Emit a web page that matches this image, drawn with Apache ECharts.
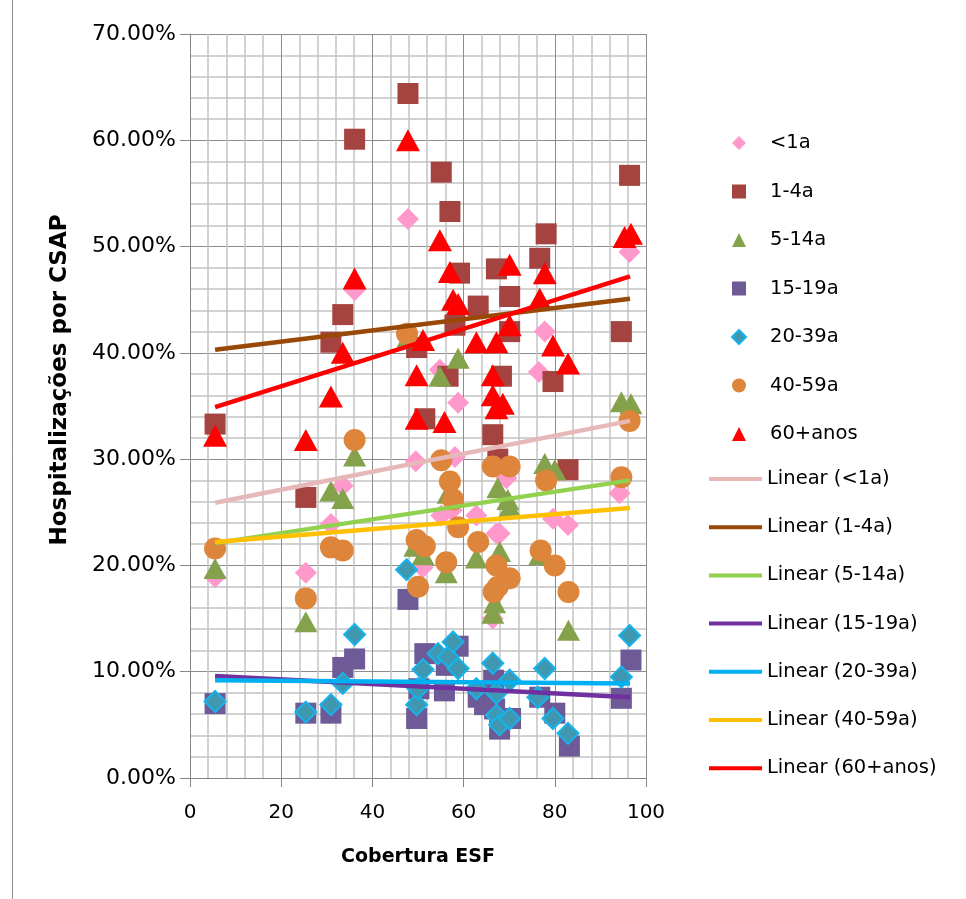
<!DOCTYPE html>
<html>
<head>
<meta charset="utf-8">
<script src="https://cdn.jsdelivr.net/npm/echarts@6/dist/echarts.min.js"></script>
<style>
  html, body { margin: 0; padding: 0; background: #fff; }
  #chart { width: 966px; height: 899px; }
</style>
</head>
<body>
<div id="chart"></div>
<script>
// dados: [cobertura ESF, % hospitalizações]
const menor1a = [[5.5,18.9],[25.4,19.3],[30.9,23.9],[33.5,27.5],[36.1,45.9],[47.8,52.6],[49.5,29.8],[51,19.8],
  [54.8,38.4],[55.1,24.7],[57.4,25.2],[58.1,30.2],[58.8,35.3],[62.8,24.7],[66.4,15.0],[67.2,23.0],[67.9,23.0],
  [69.4,28.2],[76.5,38.2],[77.8,42.0],[79.6,24.4],[82.9,23.8],[94.2,26.8],[96.4,49.5]]
const a1_4 = [[5.5,33.3],[25.4,26.4],[30.9,41.0],[33.5,43.6],[36.1,60.1],[47.8,64.4],[49.7,40.5],[51.5,33.8],
  [55.1,57.0],[56.6,37.8],[57.0,53.3],[58.1,42.6],[59.1,47.5],[63.2,44.4],[66.4,32.3],[67.2,47.9],[67.5,30.0],
  [68.3,37.8],[70.1,45.3],[70.1,42.0],[76.7,48.9],[78.1,51.2],[79.6,37.3],[82.9,29.0],[94.6,42.0],[96.4,56.7]]
const a5_14 = [[5.5,19.7],[25.4,14.7],[30.9,27.0],[33.5,26.3],[36.1,30.3],[47.8,41.5],[49.3,21.8],[51.1,21.0],
  [54.8,37.8],[56.2,19.3],[56.6,26.8],[58.8,39.5],[62.8,20.7],[66.4,15.5],[66.8,16.5],[67.5,27.3],[67.9,21.3],
  [69.7,26.2],[70.1,25.5],[76.7,21.0],[77.8,29.6],[80,29.0],[83,13.9],[94.6,35.4],[96.7,35.2]]
const a15_19 = [[5.5,7.0],[25.4,6.1],[30.9,6.1],[33.5,10.4],[36.1,11.2],[47.8,16.8],[49.7,5.6],[50.2,8.4],
  [51.5,11.7],[55.8,8.2],[56.2,10.6],[58.8,12.4],[63.2,7.6],[64.6,6.9],[66.6,9.2],[66.8,6.5],[67.9,4.6],
  [70.3,5.6],[76.7,7.6],[80,6.1],[83.2,3.0],[94.6,7.5],[96.7,11.1]]
const a20_39 = [[5.5,7.2],[25.4,6.2],[30.9,6.9],[33.5,8.9],[36.1,13.5],[47.5,19.6],[49.7,6.9],[50,8.4],
  [51.1,10.2],[54.4,11.7],[56.6,11.4],[57.7,12.8],[58.8,10.3],[62.8,8.4],[66.4,10.8],[67.2,8.0],[67.2,5.9],
  [67.9,5.0],[70.1,9.2],[70.1,5.6],[76.3,7.6],[77.8,10.3],[79.6,5.6],[82.9,4.2],[94.6,9.5],[96.4,13.4]]
const a40_59 = [[5.5,21.6],[25.4,16.9],[30.9,21.7],[33.5,21.4],[36.1,31.8],[47.6,41.8],[49.7,22.4],[50,18.0],
  [51.5,21.8],[55.1,29.9],[56.2,20.3],[57,27.9],[57.7,26.2],[58.8,23.6],[63.2,22.2],[66.4,29.3],[66.6,17.5],
  [67.2,20.0],[67.5,18.0],[70.1,29.3],[70.1,18.8],[76.9,21.4],[78.1,28.0],[80,20.0],[83,17.5],[94.6,28.3],[96.4,33.6]]
const a60mais = [[5.5,32.2],[25.4,31.8],[30.9,35.9],[33.5,40.0],[36.1,47.0],[47.8,60.0],[49.7,37.9],[49.7,33.8],
  [51.1,41.2],[54.8,50.6],[55.8,33.5],[57,47.6],[57.7,45.0],[58.8,44.6],[62.8,41.0],[66.4,37.9],[66.4,36.0],
  [67.2,41.0],[67.2,34.8],[68.6,35.2],[70.1,48.3],[70.1,42.6],[76.7,45.1],[77.8,47.5],[79.6,40.7],[82.9,39.0],
  [95.3,50.9],[96.7,51.2]]

// linhas de tendência (valor no início e no fim)
const trendX = [5.5, 96.5]
const trendMenor1a = [25.9, 33.6]
const trend1_4 = [40.3, 45.1]
const trend5_14 = [22.1, 28.0]
const trend15_19 = [9.6, 7.6]
const trend20_39 = [9.2, 8.9]
const trend40_59 = [22.2, 25.4]
const trend60mais = [34.9, 47.2]

const groupNames = ['<1a', '1-4a', '5-14a', '15-19a', '20-39a', '40-59a', '60+anos']
const trendNames = groupNames.map(n => 'Linear (' + n + ')')

const chart = echarts.init(document.getElementById('chart'))

const scatterDefs = [
  { data: menor1a, symbol: 'diamond', size: 22, color: '#ff99cc' },
  { data: a1_4, symbol: 'rect', size: 21, color: '#a4433f' },
  { data: a5_14, symbol: 'triangle', size: [23, 21], color: '#84a14b' },
  { data: a15_19, symbol: 'rect', size: 21, color: '#6e5a96' },
  { data: a20_39, symbol: 'diamond', size: 21, color: '#3f97b0', border: '#16b4ec' },
  { data: a40_59, symbol: 'circle', size: 22, color: '#dd853b' },
  { data: a60mais, symbol: 'triangle', size: [24, 22], color: '#ff0000' }
]

const trendDefs = [
  { values: trendMenor1a, color: '#e6b9b8' },
  { values: trend1_4, color: '#984807' },
  { values: trend5_14, color: '#92d050' },
  { values: trend15_19, color: '#7030a0' },
  { values: trend20_39, color: '#00b0f0' },
  { values: trend40_59, color: '#ffc000' },
  { values: trend60mais, color: '#ff0000' }
]

const series = []
scatterDefs.forEach((d, i) => {
  series.push({
    name: groupNames[i],
    type: 'scatter',
    data: d.data,
    symbol: d.symbol,
    symbolSize: d.size,
    itemStyle: {
      color: d.color,
      opacity: 1,
      borderColor: d.border || d.color,
      borderWidth: d.border ? 2 : 0
    }
  })
})
trendDefs.forEach((d, i) => {
  series.push({
    name: trendNames[i],
    type: 'line',
    data: trendX.map((x, k) => [x, d.values[k]]),
    symbol: 'none',
    lineStyle: { color: d.color, width: 4.5 },
    itemStyle: { color: d.color },
    z: 3
  })
})

const option = {
  animation: false,
  backgroundColor: '#ffffff',
  textStyle: { fontFamily: 'DejaVu Sans' },
  graphic: [
    { type: 'line', shape: { x1: 12.5, y1: 0, x2: 12.5, y2: 899 }, style: { stroke: '#8c8c8c', lineWidth: 1 } }
  ],
  grid: { left: 190, top: 34, width: 456, height: 744, containLabel: false },
  legend: [
    {
      // marcadores
      orient: 'vertical',
      left: 726,
      top: 128,
      itemWidth: 14,
      itemHeight: 14,
      itemGap: 28.5,
      data: groupNames,
      formatter: name => '{t|' + name + '}',
      textStyle: {
        color: '#000',
        rich: { t: { fontSize: 19.5, lineHeight: 20, color: '#000', fontFamily: 'DejaVu Sans', padding: [0, 0, 0, 19] } }
      }
    },
    {
      // linhas de tendência
      orient: 'vertical',
      left: 704,
      top: 464,
      itemWidth: 53,
      itemHeight: 4,
      icon: 'rect',
      itemGap: 28.2,
      data: trendNames,
      textStyle: { fontSize: 19.5, color: '#000', lineHeight: 20, fontFamily: 'DejaVu Sans' }
    }
  ],
  xAxis: {
    type: 'value',
    min: 0,
    max: 100,
    interval: 20,
    name: 'Cobertura ESF',
    nameLocation: 'middle',
    nameGap: 70,
    nameTextStyle: { fontSize: 19, fontWeight: 'bold', color: '#000' },
    axisLine: { show: true, onZero: false, lineStyle: { color: '#868686', width: 1 } },
    axisTick: { show: true, length: 9, lineStyle: { color: '#868686' } },
    axisLabel: { fontSize: 20, color: '#000', margin: 25 },
    splitLine: { show: true, lineStyle: { color: '#8c8c8c', width: 1 } },
    minorTick: { show: false, splitNumber: 5 },
    minorSplitLine: { show: true, lineStyle: { color: '#c4c4c4', width: 1.5 } }
  },
  yAxis: {
    type: 'value',
    min: 0,
    max: 70,
    interval: 10,
    name: 'Hospitalizações por CSAP',
    nameLocation: 'middle',
    nameGap: 118,
    nameTextStyle: { fontSize: 23, fontWeight: 'bold', color: '#000', padding: [0, 0, 0, 52] },
    axisLine: { show: true, lineStyle: { color: '#868686', width: 1 } },
    axisTick: { show: true, length: 10, lineStyle: { color: '#868686' } },
    axisLabel: { fontSize: 22, color: '#000', margin: 14, formatter: v => v.toFixed(2) + '%' },
    splitLine: { show: true, lineStyle: { color: '#8c8c8c', width: 1 } },
    minorTick: { show: false, splitNumber: 5 },
    minorSplitLine: { show: true, lineStyle: { color: '#c4c4c4', width: 1.5 } }
  },
  series
}

chart.setOption(option)
</script>
</body>
</html>
